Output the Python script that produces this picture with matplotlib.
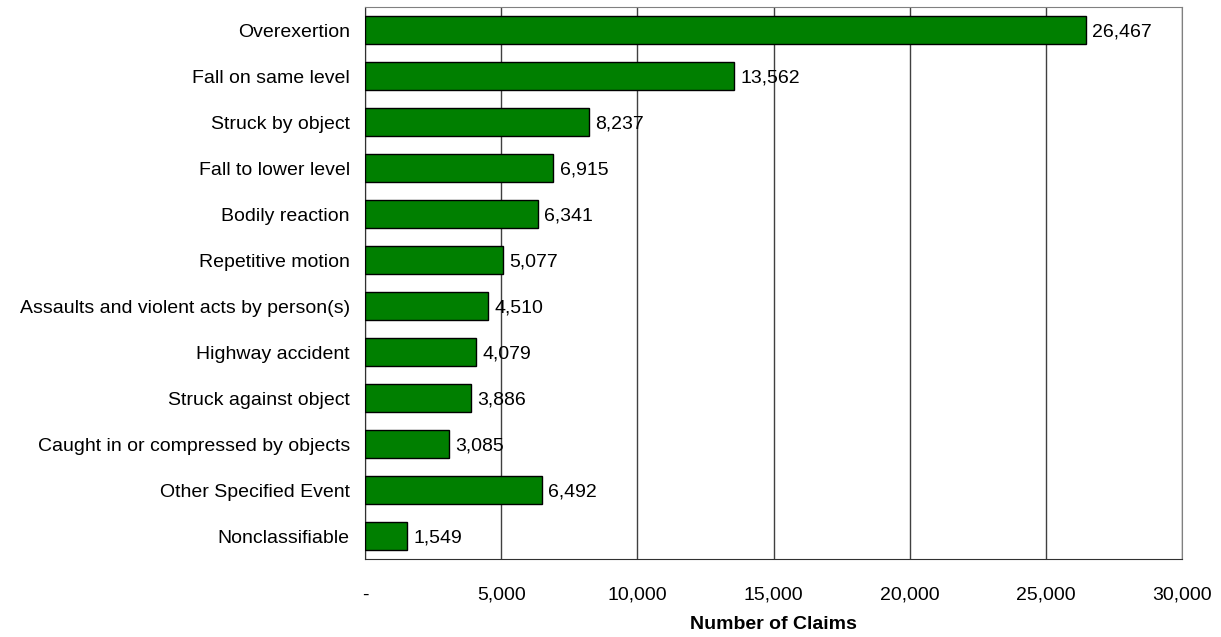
import numpy as np
import matplotlib.pyplot as plt
from matplotlib.ticker import FuncFormatter

plt.rcParams['font.family'] = ['Liberation Sans', 'DejaVu Sans']

# claim counts by event type, top to bottom
events = [
    'Overexertion',
    'Fall on same level',
    'Struck by object',
    'Fall to lower level',
    'Bodily reaction',
    'Repetitive motion',
    'Assaults and violent acts by person(s)',
    'Highway accident',
    'Struck against object',
    'Caught in or compressed by objects',
    'Other Specified Event',
    'Nonclassifiable',
]
claims = [26467, 13562, 8237, 6915, 6341, 5077, 4510, 4079, 3886, 3085, 6492, 1549]
xticks = [0, 5000, 10000, 15000, 20000, 25000, 30000]

FS = 14


def fmt_count(v, pos=None):
    if v == 0:
        return '-'
    return '{:,.0f}'.format(v)


fig = plt.figure(figsize=(12.21, 6.37), dpi=100)
ax = fig.add_axes([0.299, 0.1224, 0.669, 0.8666])

ypos = np.arange(len(events))
ax.barh(ypos, claims, height=0.59, color='#007f00', edgecolor='black', linewidth=1, zorder=3)

for y, v in zip(ypos, claims):
    ax.annotate(fmt_count(v), xy=(v, y), xytext=(4.5, 0), textcoords='offset points',
                va='center_baseline', ha='left', fontsize=FS, color='black', zorder=4)

ax.set_ylim(len(events) - 0.5, -0.5)
ax.set_xlim(0, 30000)
ax.set_yticks(ypos)
ax.set_yticklabels(events, fontsize=FS, va='center_baseline')
ax.set_xticks(xticks)
ax.xaxis.set_major_formatter(FuncFormatter(fmt_count))
ax.tick_params(axis='both', length=0, labelsize=FS)
ax.tick_params(axis='x', pad=20)
ax.tick_params(axis='y', pad=11)

ax.grid(axis='x', color='#404040', linewidth=1, zorder=0)
for side in ['left', 'bottom']:
    ax.spines[side].set_color('#303030')
for side in ['top', 'right']:
    ax.spines[side].set_color('#808080')

ax.set_xlabel('Number of Claims', fontsize=FS, fontweight='bold', labelpad=9)

fig.savefig('out.png', dpi=100)
plt.close(fig)
